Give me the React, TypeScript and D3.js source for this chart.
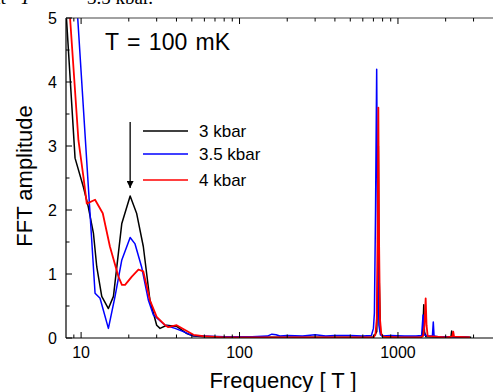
import React from "react";
import * as d3 from "d3";

const W = 493, H = 392;
const M = { left: 66, top: 18, right: 493, bottom: 338 };

const seriesNames = ["3 kbar", "3.5 kbar", "4 kbar"];
const seriesColors = ["#000000", "#0000ff", "#ff0000"];

// 3 kbar
const freq3 = [7.9, 9.16, 10.34, 11.1, 11.96, 12.56, 13.5, 14.87, 16.0, 18.07, 20.4, 22.4, 24.7, 27.2, 30.0, 31.5, 34.7, 40.1, 46.5, 51.2, 60, 80, 120, 200, 400, 700, 735, 745, 752, 760, 775, 800, 1000, 1400, 1430, 1445, 1455, 1470, 1500, 2000, 2160, 2183, 2200, 2900];
const amp3 = [5.4, 2.81, 2.36, 2.05, 1.64, 1.11, 0.65, 0.46, 0.65, 1.79, 2.22, 1.95, 1.43, 0.59, 0.20, 0.15, 0.20, 0.18, 0.07, 0.03, 0.02, 0.015, 0.01, 0.01, 0.01, 0.01, 0.1, 1.0, 3.0, 1.0, 0.1, 0.02, 0.01, 0.01, 0.04, 0.3, 0.52, 0.1, 0.02, 0.01, 0.02, 0.11, 0.02, 0.01];

// 3.5 kbar
const freq35 = [9.3, 12.25, 13.17, 14.87, 16.38, 18.07, 20.4, 21.9, 24.1, 26.6, 28.6, 33.9, 39.2, 44.2, 50, 60, 80, 120, 150, 160, 170, 180, 200, 250, 300, 350, 400, 500, 600, 680, 700, 710, 722, 734, 745, 758, 775, 800, 900, 1100, 1300, 1410, 1440, 1460, 1550, 1650, 1671, 1690, 1800, 2200, 2800];
const amp35 = [5.4, 0.70, 0.62, 0.15, 0.65, 1.22, 1.57, 1.47, 1.11, 0.59, 0.36, 0.20, 0.15, 0.10, 0.04, 0.03, 0.02, 0.02, 0.03, 0.06, 0.05, 0.03, 0.04, 0.03, 0.05, 0.03, 0.04, 0.04, 0.03, 0.04, 0.15, 0.39, 2.0, 4.2, 1.5, 0.2, 0.05, 0.03, 0.04, 0.03, 0.03, 0.04, 0.36, 0.05, 0.03, 0.03, 0.25, 0.03, 0.02, 0.02, 0.01];

// 4 kbar
const freq4 = [8.2, 9.62, 10.34, 10.86, 12.25, 13.7, 15.2, 17.2, 18.1, 18.95, 20.9, 23.0, 24.7, 27.2, 30.0, 33.9, 35.5, 40.1, 45.3, 51.2, 59, 80, 120, 200, 400, 700, 720, 735, 745, 752, 760, 770, 785, 810, 1000, 1400, 1440, 1470, 1496, 1515, 1540, 2000, 2200, 2233, 2260, 2850];
const amp4 = [5.6, 3.09, 2.52, 2.10, 2.16, 1.95, 1.43, 0.96, 0.83, 0.83, 0.96, 1.07, 1.04, 0.59, 0.33, 0.20, 0.17, 0.20, 0.125, 0.05, 0.03, 0.01, 0.01, 0.01, 0.01, 0.01, 0.05, 0.3, 1.8, 3.6, 1.5, 0.3, 0.06, 0.02, 0.01, 0.01, 0.03, 0.2, 0.62, 0.2, 0.03, 0.01, 0.02, 0.10, 0.02, 0.01];

const xMajor = [10, 100, 1000];
const xMinor = [9, 20, 30, 40, 50, 60, 70, 80, 90, 200, 300, 400, 500, 600, 700, 800, 900, 2000, 3000];
const yMajor = [0, 1, 2, 3, 4, 5];
const yMinor = [0.5, 1.5, 2.5, 3.5, 4.5];

export default function App() {
  const x = d3.scaleLog().domain([8.03, 3980]).range([M.left, M.right]);
  const y = d3.scaleLinear().domain([0, 5]).range([M.bottom, M.top]);
  const line = d3
    .line<[number, number]>()
    .x((d) => x(d[0]))
    .y((d) => y(d[1]))
    .curve(d3.curveLinear);

  const series = [
    freq3.map((f, i) => [f, amp3[i]] as [number, number]),
    freq35.map((f, i) => [f, amp35[i]] as [number, number]),
    freq4.map((f, i) => [f, amp4[i]] as [number, number]),
  ];

  const sans = "Liberation Sans, Arial, sans-serif";
  const serif = "Liberation Serif, serif";
  const legY = [131, 154, 180];

  return (
    <svg width={W} height={H} style={{ position: "absolute", left: 0, top: 0 }}>
      <rect width={W} height={H} fill="#fff" />
      <text y={4} fontFamily={serif} fontSize={19} fill="#000">
        <tspan x={-8}>at</tspan>
        <tspan x={20} fontStyle="italic">T</tspan>
        <tspan x={50}>=</tspan>
        <tspan x={87}>3.5 kbar.</tspan>
      </text>
      <defs>
        <clipPath id="plot">
          <rect x={M.left} y={M.top} width={M.right - M.left} height={M.bottom - M.top} />
        </clipPath>
        <marker id="ah" viewBox="0 0 10 10" refX="10" refY="5" markerWidth="7" markerHeight="7" orient="auto" markerUnits="userSpaceOnUse">
          <path d="M0,0 L10,5 L0,10 z" fill="#000" />
        </marker>
      </defs>
      <g clipPath="url(#plot)">
        {series.map((s, i) => (
          <path key={i} d={line(s) || ""} fill="none" stroke={seriesColors[i]} strokeWidth={i === 2 ? 1.8 : 1.5} strokeLinejoin="round" />
        ))}
      </g>
      <line x1={M.left} x2={M.left} y1={M.top} y2={M.bottom} stroke="#000" strokeWidth={1.2} />
      <line x1={M.left} x2={M.right} y1={M.bottom} y2={M.bottom} stroke="#000" strokeWidth={1.2} />
      <line x1={M.left} x2={M.right} y1={M.top} y2={M.top} stroke="#444" strokeWidth={1.2} />
      {xMajor.map((v) => (
        <g key={"xM" + v}>
          <line x1={x(v)} x2={x(v)} y1={M.bottom} y2={M.bottom - 6} stroke="#000" />
          <line x1={x(v)} x2={x(v)} y1={M.top} y2={M.top + 6} stroke="#000" />
          <text x={x(v)} y={358} textAnchor="middle" fontFamily={sans} fontSize={16} fill="#000">{v}</text>
        </g>
      ))}
      {xMinor.map((v) => (
        <g key={"xm" + v}>
          <line x1={x(v)} x2={x(v)} y1={M.bottom} y2={M.bottom - 3.5} stroke="#000" />
          <line x1={x(v)} x2={x(v)} y1={M.top} y2={M.top + 3.5} stroke="#000" />
        </g>
      ))}
      {yMajor.map((v) => (
        <g key={"yM" + v}>
          <line x1={M.left} x2={M.left + 6} y1={y(v)} y2={y(v)} stroke="#000" />
          <text x={57} y={y(v) + 6} textAnchor="end" fontFamily={sans} fontSize={16} fill="#000">{v}</text>
        </g>
      ))}
      {yMinor.map((v) => (
        <line key={"ym" + v} x1={M.left} x2={M.left + 3.5} y1={y(v)} y2={y(v)} stroke="#000" />
      ))}
      <text x={283} y={388} textAnchor="middle" fontFamily={sans} fontSize={22} fill="#000">Frequency [ T ]</text>
      <text transform={`translate(32,176) rotate(-90)`} textAnchor="middle" fontFamily={sans} fontSize={22} fill="#000">FFT amplitude</text>
      <text x={105} y={50} fontFamily={sans} fontSize={23} fill="#000" style={{ wordSpacing: "2px" }}>T = 100 mK</text>
      <line x1={x(20.4)} x2={x(20.4)} y1={122} y2={188} stroke="#000" strokeWidth={1.3} markerEnd="url(#ah)" />
      {seriesNames.map((n, i) => (
        <g key={n}>
          <line x1={143} x2={188} y1={legY[i]} y2={legY[i]} stroke={seriesColors[i]} strokeWidth={1.5} />
          <text x={199} y={legY[i] + 6} fontFamily={sans} fontSize={17} fill="#000">{n}</text>
        </g>
      ))}
    </svg>
  );
}
